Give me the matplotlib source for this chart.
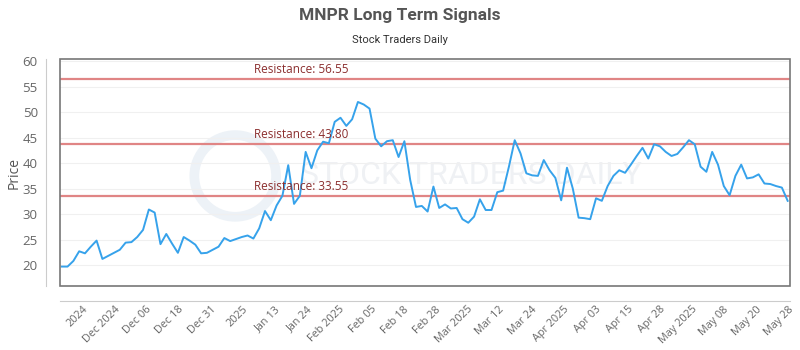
import numpy as np
import matplotlib
matplotlib.use("Agg")
import matplotlib.pyplot as plt
from matplotlib.patches import Rectangle, Ellipse

plt.rcParams['font.family'] = ['Open Sans', 'DejaVu Sans']

# daily closes
prices = [
    19.7, 19.7, 20.8, 22.7, 22.3, 23.6, 24.8, 21.2, 21.8, 22.4,
    23.0, 24.4, 24.5, 25.5, 26.9, 30.9, 30.3, 24.1, 26.1, 24.2,
    22.4, 25.5, 24.8, 24.0, 22.3, 22.4, 23.0, 23.6, 25.3, 24.7,
    25.1, 25.5, 25.8, 25.2, 27.2, 30.6, 28.8, 31.7, 33.6, 39.6,
    32.0, 33.6, 42.2, 39.0, 42.5, 44.2, 43.9, 48.1, 48.9, 47.3,
    48.6, 52.0, 51.5, 50.7, 44.8, 43.3, 44.3, 44.5, 41.2, 44.3,
    36.7, 31.4, 31.6, 30.5, 35.4, 31.2, 31.9, 31.1, 31.2, 29.0,
    28.3, 29.5, 32.9, 30.8, 30.8, 34.3, 34.6, 39.3, 44.5, 41.9,
    38.0, 37.6, 37.5, 40.6, 38.6, 37.1, 32.7, 39.1, 35.0, 29.3,
    29.2, 29.0, 33.1, 32.6, 35.5, 37.5, 38.6, 38.1, 39.7, 41.4,
    43.0, 40.9, 43.7, 43.3, 42.2, 41.4, 41.8, 43.1, 44.5, 43.7,
    39.3, 38.3, 42.2, 39.7, 35.5, 33.7, 37.5, 39.7, 37.0, 37.2,
    37.8, 36.0, 35.9, 35.5, 35.2, 32.6,
]
resistance = [56.55, 43.80, 33.55]
tick_labels = ["2024", "Dec 2024", "Dec 06", "Dec 18", "Dec 31", "2025",
               "Jan 13", "Jan 24", "Feb 2025", "Feb 05", "Feb 18", "Feb 28",
               "Mar 2025", "Mar 12", "Mar 24", "Apr 2025", "Apr 03", "Apr 15",
               "Apr 28", "May 2025", "May 08", "May 20", "May 28"]
y_ticks = [20, 25, 30, 35, 40, 45, 50, 55, 60]

x = np.arange(len(prices))

fig = plt.figure(figsize=(8, 3.5), dpi=100)
ax = fig.add_axes([0.075, 0.183, 0.9125, 0.648])

# offset axis lines first (set_position resets the ticks)
for s in ['top', 'right']:
    ax.spines[s].set_visible(False)
ax.spines['left'].set_position(('outward', 10))
ax.spines['bottom'].set_position(('outward', 11))
ax.spines['left'].set_color('#cccccc')
ax.spines['bottom'].set_color('#cccccc')

# faint watermark
ax.add_patch(Ellipse((0.24, 0.485), 0.112, 0.36, transform=ax.transAxes,
                     fill=False, lw=7, ec='#edf2f7', zorder=0))
ax.text(0.563, 0.485, "STOCK TRADERS DAILY", transform=ax.transAxes,
        ha='center', va='center', fontsize=23, color='#eff1f4',
        family='Roboto', zorder=0)

for yv in y_ticks:
    ax.axhline(yv, color='#f0f0f0', lw=0.8, zorder=1)

ax.plot(x, prices, color='#36a2eb', lw=1.4, zorder=3)

for r in resistance:
    ax.axhline(r, color='#e08585', lw=1.6, zorder=2)
    ax.text(0.266, r + 0.6, f"Resistance: {r:.2f}", transform=ax.get_yaxis_transform(),
            color='#8b2e2e', fontsize=8.5, va='bottom', ha='left', zorder=4)

ax.set_xlim(-0.3, 125.4)
ax.set_ylim(15.9, 60.4)

ax.set_yticks(y_ticks)
ax.set_xticks(np.linspace(3.5, len(prices) - 1, len(tick_labels)))
ax.set_xticklabels(tick_labels, rotation=45, ha='right', va='top',
                   rotation_mode='anchor')
ax.tick_params(axis='both', length=0, colors='#666666', labelsize=7.8)
ax.tick_params(axis='y', pad=6, labelsize=9.5)
ax.tick_params(axis='x', pad=2)

ax.add_patch(Rectangle((0, 0), 1, 1, transform=ax.transAxes, fill=False,
                       ec='#777777', lw=1.2, zorder=5, clip_on=False))

ax.set_ylabel("Price", color='#555555', fontsize=10)
ax.yaxis.set_label_coords(-0.052, 0.5)

fig.text(0.5, 0.955, "MNPR Long Term Signals", ha='center', va='center',
         fontsize=12.5, fontweight='bold', color='#555555', family='Roboto')
fig.text(0.5, 0.885, "Stock Traders Daily", ha='center', va='center',
         fontsize=8, color='#333333', family='Roboto')

fig.savefig("out.png", dpi=100)
